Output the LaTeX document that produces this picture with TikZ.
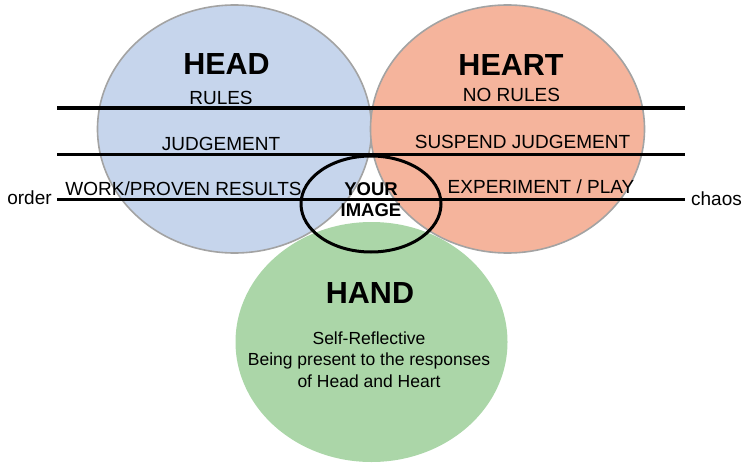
\documentclass[tikz,border=0pt]{standalone}
\usepackage{fontspec}
\setmainfont{Liberation Sans}
\usetikzlibrary{shapes.geometric}
\definecolor{headfill}{HTML}{C6D5EC}
\definecolor{heartfill}{HTML}{F5B49C}
\definecolor{handfill}{HTML}{ABD6A8}
\definecolor{rimgray}{HTML}{A3A3A3}
\tikzset{
  disc/.style={draw=rimgray, line width=1.6pt},
  band/.style={line width=3pt, black},
  ring/.style={line width=3pt, black},
  title/.style={anchor=base, inner sep=0pt, font=\bfseries\fontsize{30.5}{32}\selectfont},
  label/.style={anchor=base, inner sep=0pt, font=\fontsize{19}{21}\selectfont},
  note/.style={anchor=base, inner sep=0pt, font=\fontsize{17.5}{21.5}\selectfont},
}
\begin{document}
\begin{tikzpicture}[x=1pt,y=-1pt]
\useasboundingbox (0,0) rectangle (743,468);

% three circles
\fill[handfill] (371.5,342) ellipse [x radius=136, y radius=120];
\draw[disc, fill=headfill] (234.5,129) ellipse [x radius=137, y radius=124];
\draw[disc, fill=heartfill] (507.5,129) ellipse [x radius=137, y radius=124];

% horizontal bands
\coordinate (r1l) at (57,108);  \coordinate (r1r) at (685,108);
\coordinate (r2l) at (57,154);  \coordinate (r2r) at (685,154);
\coordinate (r3l) at (57,199);  \coordinate (r3r) at (685,199);
\draw[band] (r1l) -- (r1r);
\draw[band] (r2l) -- (r2r);
\draw[band] (r3l) -- (r3r);

% centre ring
\draw[ring] (371,204) ellipse [x radius=70, y radius=48];

% head column
\node[title] (head) at (226.5,75) {HEAD};
\node[label] (rules) at (221,104) {RULES};
\node[label] (judge) at (221,150) {JUDGEMENT};
\node[label] (work) at (183.5,195) {WORK/PROVEN RESULTS};

% heart column
\node[title] (heart) at (511,76) {HEART};
\node[label] (norules) at (511.5,102) {NO RULES};
\node[label] (suspend) at (522.5,148) {SUSPEND JUDGEMENT};
\node[label] (play) at (541,193) {EXPERIMENT / PLAY};

% axis ends
\node[label] (order) at (29.5,204) {order};
\node[label] (chaos) at (716.5,205) {chaos};

% centre (base anchor sits on the last line)
\node[anchor=base, inner sep=0pt, align=center, font=\bfseries\fontsize{18.5}{21}\selectfont] (image) at (371,216) {YOUR\\IMAGE};

% hand
\node[title] (hand) at (370,303) {HAND};
\node[note, align=center] (reflect) at (369,387) {Self-Reflective\\Being present to the responses\\of Head and Heart};
\end{tikzpicture}
\end{document}
